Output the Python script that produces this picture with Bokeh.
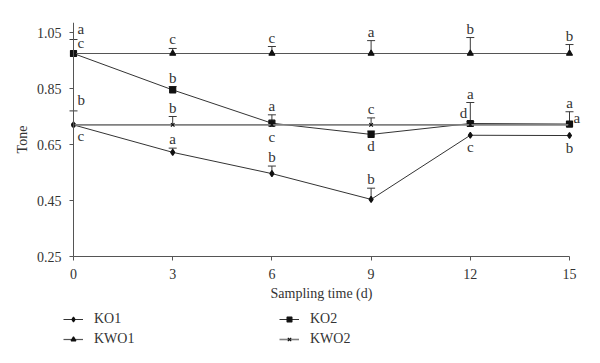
from bokeh.plotting import figure
from bokeh.models import Legend, LegendItem, Whisker, ColumnDataSource, TeeHead, Range1d, FixedTicker
from bokeh.embed import file_html
from bokeh.resources import INLINE
from bokeh.core.properties import value

days = [0, 3, 6, 9, 12, 15]
y_ticks = [0.25, 0.45, 0.65, 0.85, 1.05]

ko1 = [0.72, 0.622, 0.546, 0.454, 0.683, 0.682]
ko1_err = [0.0, 0.015, 0.027, 0.04, 0.0, 0.0]
ko1_letters = ["c", "a", "b", "b", "c", "b"]
ko1_sides = ["below_right", "above", "above", "above", "below", "below"]

ko2 = [0.975, 0.845, 0.726, 0.686, 0.725, 0.723]
ko2_err = [0.0, 0.012, 0.03, 0.012, 0.006, 0.0]
ko2_letters = ["c", "b", "a", "d", "d", "a"]
ko2_sides = ["above_right", "above", "above", "below", "left", "right"]

kwo1 = [0.975, 0.975, 0.975, 0.975, 0.975, 0.975]
kwo1_err = [0.05, 0.018, 0.025, 0.046, 0.057, 0.032]
kwo1_letters = ["a", "c", "c", "a", "b", "b"]
kwo1_sides = ["above_right", "above", "above", "above", "above", "above"]

kwo2 = [0.72, 0.72, 0.72, 0.72, 0.72, 0.72]
kwo2_err = [0.05, 0.03, 0.0, 0.025, 0.08, 0.047]
kwo2_letters = ["b", "b", "c", "c", "a", "a"]
kwo2_sides = ["above_right", "above", "below", "above", "above", "above"]

FONT = "Liberation Serif"
LC = "#3a3a3a"

# layout geometry (pixels)
W, H = 592, 355
L_PANEL = 0           # width of the left axis panel (axes sit at fixed locations)
PX_X = 496 / 15.0     # pixels per day
PX_Y = 280.0          # pixels per unit of tone
X0_PIX, Y025_PIX, TOP_PIX = 73, 256, 22
x_start = -(X0_PIX - L_PANEL) / PX_X
x_end = 15 + (W - 569) / PX_X
y_end = 0.25 + (Y025_PIX - TOP_PIX) / PX_Y
y_start = 0.25 - (H - Y025_PIX) / PX_Y

p = figure(width=W, height=H, output_backend="svg", toolbar_location=None,
           x_range=Range1d(x_start, x_end), y_range=Range1d(y_start, y_end),
           min_border_left=0, min_border_right=0, min_border_top=TOP_PIX, min_border_bottom=0)
p.outline_line_color = None
p.grid.visible = False
p.background_fill_color = "white"

for ax in (p.xaxis[0], p.yaxis[0]):
    ax.axis_line_color = "#555555"
    ax.major_tick_line_color = "#555555"
    ax.major_tick_out = 4
    ax.major_tick_in = 0
    ax.minor_tick_line_color = None
    ax.major_label_text_font = FONT
    ax.major_label_text_font_size = "14px"
    ax.major_label_text_color = "#333333"
    ax.axis_label_text_font = FONT
    ax.axis_label_text_font_size = "14px"
    ax.axis_label_text_font_style = "normal"
    ax.axis_label_text_color = "#333333"

p.xaxis.ticker = FixedTicker(ticks=days)
p.yaxis.ticker = FixedTicker(ticks=y_ticks)
p.xaxis.bounds = (0, 15)
p.yaxis.bounds = (0.25, y_end)
p.xaxis.fixed_location = 0.25
p.yaxis.fixed_location = 0
p.xaxis.axis_label = "Sampling time (d)"
p.yaxis.axis_label = "Tone"
p.xaxis.major_label_standoff = 8
p.yaxis.major_label_standoff = 8
p.xaxis.axis_label_standoff = 4
p.yaxis.axis_label_standoff = 4

series = [
    ("KO1", ko1, ko1_err, ko1_letters, ko1_sides, "diamond", 6, "#333333", 1.0),
    ("KO2", ko2, ko2_err, ko2_letters, ko2_sides, "square", 6, "#333333", 1.0),
    ("KWO1", kwo1, kwo1_err, kwo1_letters, kwo1_sides, "triangle", 6, "#555555", 1.2),
    ("KWO2", kwo2, kwo2_err, kwo2_letters, kwo2_sides, "x", 5, "#808080", 1.6),
]

items = {}
side_style = {
    "above": dict(align="center", baseline="bottom", xo=0, yo=-1, use_top=True),
    "below": dict(align="center", baseline="top", xo=0, yo=4, use_top=False),
    "above_right": dict(align="left", baseline="bottom", xo=4, yo=-3, use_top=True),
    "below_right": dict(align="left", baseline="top", xo=4, yo=3, use_top=False),
    "left": dict(align="right", baseline="middle", xo=-3, yo=-11, use_top=False),
    "right": dict(align="left", baseline="middle", xo=4, yo=-6, use_top=False),
}

for name, vals, errs, letters, sides, marker, size, lcol, lw in series:
    r_line = p.line(days, vals, line_color=lcol, line_width=lw)
    r_pts = p.scatter(days, vals, marker=marker, size=size, fill_color="#111111",
                      line_color="#111111", line_width=1.2)
    items[name] = [r_line, r_pts]
    bx = [d for d, e in zip(days, errs) if e > 0]
    by = [v for v, e in zip(vals, errs) if e > 0]
    bu = [v + e for v, e in zip(vals, errs) if e > 0]
    src = ColumnDataSource(dict(x=bx, lower=by, upper=bu))
    w = Whisker(source=src, base="x", lower="lower", upper="upper", dimension="height",
                line_color=LC, line_width=1,
                upper_head=TeeHead(size=8, line_color=LC, line_width=1), lower_head=None)
    p.add_layout(w)
    for side, st in side_style.items():
        xs, ys, ts = [], [], []
        for d, v, e, t, s in zip(days, vals, errs, letters, sides):
            if s == side:
                xs.append(d)
                ys.append(v + e if st["use_top"] else v)
                ts.append(t)
        if xs:
            p.text(x=xs, y=ys, text=ts, x_offset=st["xo"], y_offset=st["yo"],
                   text_align=st["align"], text_baseline=st["baseline"],
                   text_font=value(FONT), text_font_size="15px", text_color="#333333")


def make_legend(names, loc):
    lg = Legend(items=[LegendItem(label=n, renderers=items[n]) for n in names],
                location=loc, orientation="vertical")
    lg.background_fill_alpha = 0
    lg.border_line_color = None
    lg.padding = 0
    lg.margin = 0
    lg.spacing = 1
    lg.glyph_height = 12
    lg.label_height = 19
    lg.glyph_width = 20
    lg.label_standoff = 11
    lg.label_text_font = FONT
    lg.label_text_font_size = "14px"
    lg.label_text_color = "#333333"
    return lg


p.add_layout(make_legend(["KO1", "KWO1"], (63 - L_PANEL, 7)))
p.add_layout(make_legend(["KO2", "KWO2"], (279 - L_PANEL, 7)))

open("out.html", "w").write(file_html(p, INLINE))
